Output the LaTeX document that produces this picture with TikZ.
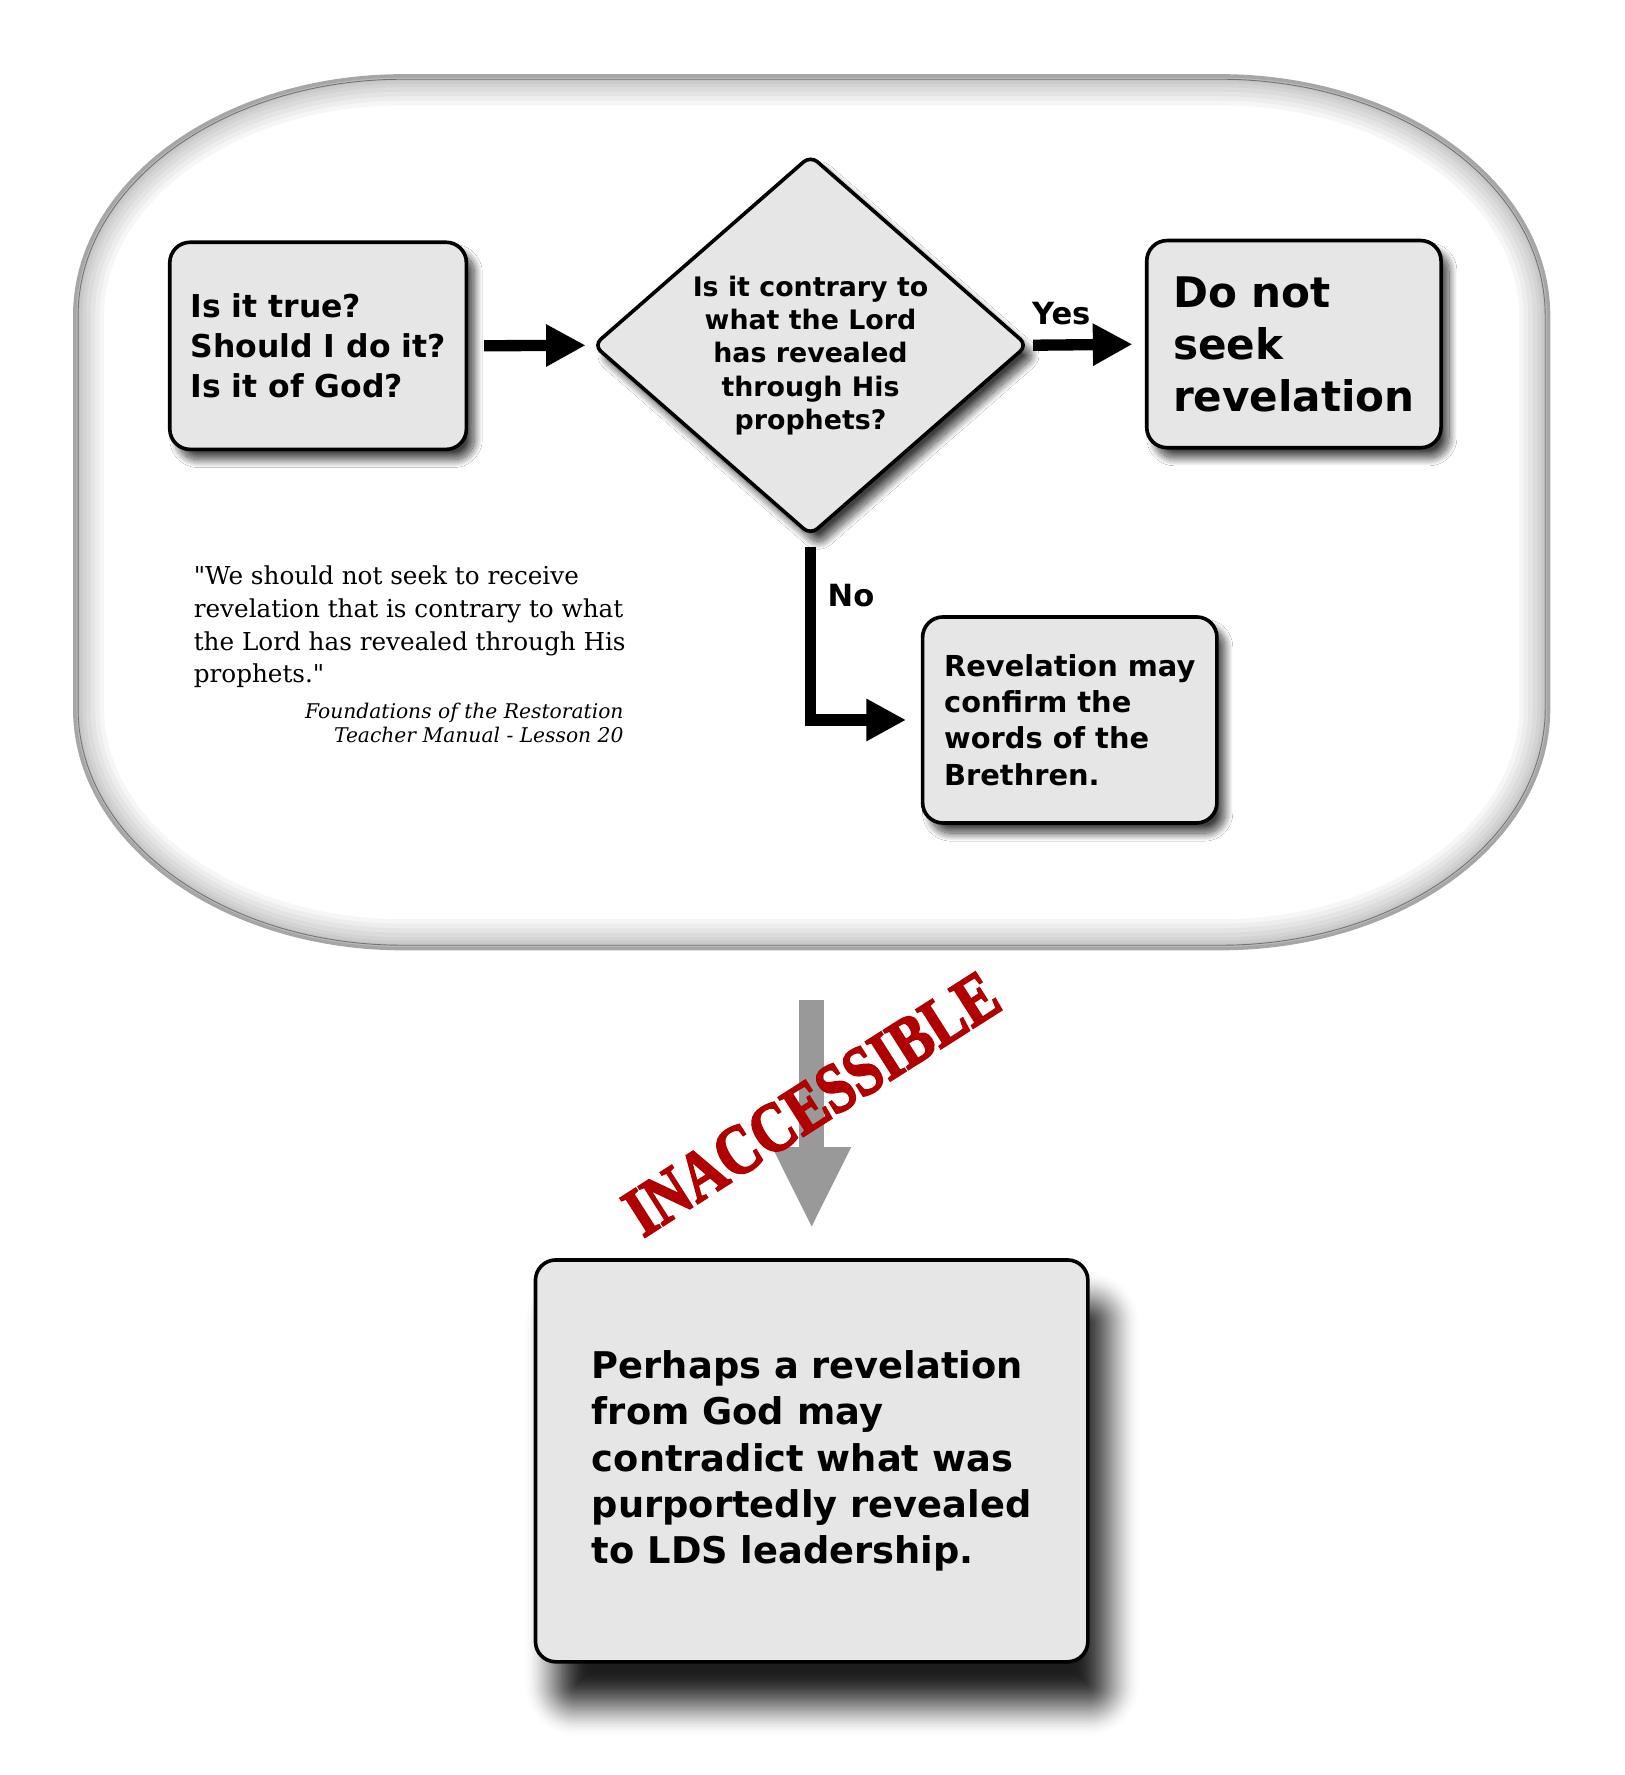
\documentclass[tikz,border=0pt]{standalone}
\usepackage{fontspec}
\setmainfont{DejaVu Serif}[Ligatures=TeXOff]
\newfontfamily\boxfont{DejaVu Sans}
\newfontfamily\stampfont{Liberation Serif}[FakeBold=3]
\usetikzlibrary{arrows.meta,shapes.geometric,shadows.blur}
\definecolor{boxfill}{HTML}{E6E6E6}
\definecolor{stampred}{HTML}{B00000}
\definecolor{bigarrow}{HTML}{999999}
\def\contpath{(356,67) -- (1078,67) .. controls (1238.2,67) and (1368,161.9) .. (1368,279) -- (1368,626) .. controls (1368,743.1) and (1238.2,838) .. (1078,838) -- (356,838) .. controls (195.8,838) and (66,743.1) .. (66,626) -- (66,279) .. controls (66,161.9) and (195.8,67) .. (356,67) -- cycle}
% soft shadow: x1,y1,x2,y2, blur, steps, corner radius, max alpha
\newcommand\softshadow[8]{%
  \foreach \k in {1,...,#6}{
    \pgfmathsetmacro\ta{(\k-1)/#6}
    \pgfmathsetmacro\tb{\k/#6}
    \pgfmathsetmacro\Aa{#8*(3*\ta*\ta-2*\ta*\ta*\ta)}
    \pgfmathsetmacro\Ab{#8*(3*\tb*\tb-2*\tb*\tb*\tb)}
    \pgfmathsetmacro\op{1-(1-\Ab)/(1-\Aa)}
    \pgfmathsetmacro\ee{-#5+2*#5*(\k-0.5)/#6}
    \pgfmathsetmacro\rr{max(#7-\ee,0.5)}
    \fill[black, opacity=\op, rounded corners=\rr pt] (#1+\ee,#2+\ee) rectangle (#3-\ee,#4-\ee);
  }%
}
\tikzset{
  shad/.style={blur shadow={shadow xshift=7pt,shadow yshift=-9pt,shadow blur radius=7pt,shadow blur steps=24,shadow opacity=75}},
  flowbox/.style={draw=black, line width=3.2pt, fill=boxfill, rounded corners=18pt, inner sep=0pt, align=left, text=black},
  decision/.style={diamond, draw=black, line width=3.2pt, fill=boxfill, rounded corners=8pt, inner sep=0pt, shad},
  fatarrow/.style={line width=10pt, -{Triangle[length=35pt,width=35pt]}},
  graybig/.style={draw=bigarrow, line width=22pt, -{Triangle[length=72pt,width=64pt]}},
  lbl/.style={font=\boxfont\bfseries\fontsize{27}{30}\selectfont, inner sep=0pt},
}
\begin{document}
\begin{tikzpicture}[x=1pt,y=-1pt]
\useasboundingbox (0,0) rectangle (1435,1568);
\fill[white] (0,0) rectangle (1435,1568);
% container
\fill[white] \contpath;
\begin{scope}
  \clip \contpath;
  \foreach \w in {52,44,36,28,20,14,9,5,3} {
    \draw[black, opacity=0.035, line width=\w pt] \contpath;
  }
\end{scope}
\draw[black!35, line width=3pt] \contpath;
\draw[black!55, line width=0.8pt] (356,70) -- (1078,70) .. controls (1236.5,70) and (1365,163.5) .. (1365,279) -- (1365,626) .. controls (1365,741.5) and (1236.5,835) .. (1078,835) -- (356,835) .. controls (197.5,835) and (69,741.5) .. (69,626) -- (69,279) .. controls (69,163.5) and (197.5,70) .. (356,70) -- cycle;

% boxes
\node[flowbox, shad, minimum width=262pt, minimum height=183pt, font=\boxfont\bfseries\fontsize{27.8}{35.5}\selectfont] (q) at (281,305.5) {Is it true?\\Should I do it?\\Is it of God?};
\node[decision, minimum width=384pt, minimum height=336pt] (dia) at (716,305) {};
\node[align=center, inner sep=0pt, font=\boxfont\bfseries\fontsize{23.7}{29.5}\selectfont] (diatext) at (716,314) {Is it contrary to\\what the Lord\\has revealed\\through His\\prophets?};
\node[flowbox, shad, minimum width=260pt, minimum height=183pt, font=\boxfont\bfseries\fontsize{37.2}{46}\selectfont] (dont) at (1143,304) {Do not\\seek\\revelation};
\node[flowbox, shad, minimum width=260pt, minimum height=182pt, font=\boxfont\bfseries\fontsize{25.5}{32}\selectfont] (conf) at (945,636) {Revelation may\\confirm the\\words of the\\Brethren.};

% connectors
\draw[fatarrow, shorten <=14pt, shorten >=5pt] (q.east) -- (dia.west);
\draw[fatarrow, shorten <=3pt, shorten >=11pt] (dia.east) -- (dont.west);
\draw[fatarrow, line join=miter, shorten <=8.5pt, shorten >=13pt] (dia.south) |- (conf.west);
\node[lbl, anchor=base] (yes) at (937.5,287) {Yes};
\node[lbl, anchor=base west] (no) at (731,536) {No};

% quote
\node[anchor=north west, align=left, inner sep=0pt, font=\fontsize{21.8}{29}\selectfont] (quote) at (171,499.5) {"We should not seek to receive\\revelation that is contrary to what\\the Lord has revealed through His\\prophets."};
\node[anchor=north east, align=right, inner sep=0pt, font=\itshape\fontsize{17.9}{22}\selectfont] (src) at (551,620.5) {Foundations of the Restoration\\Teacher Manual - Lesson 20};

% bottom
\softshadow{491}{1151}{979}{1506}{30}{48}{18}{0.85}
\node[flowbox, minimum width=488pt, minimum height=355pt, font=\boxfont\bfseries\fontsize{32.5}{41}\selectfont] (bot) at (717,1290.5) {Perhaps a revelation\\from God may\\contradict what was\\purportedly revealed\\to LDS leadership.};
\coordinate (gtop) at (717,883);
\draw[graybig, shorten >=26pt] (gtop) -- (bot.north);

% stamp
\node[rotate=32.5, text=stampred, inner sep=0pt, font=\stampfont\bfseries\fontsize{62}{62}\selectfont] (stamp) at (717,975) {\scalebox{0.82}[1]{INACCESSIBLE}};
\end{tikzpicture}
\end{document}
